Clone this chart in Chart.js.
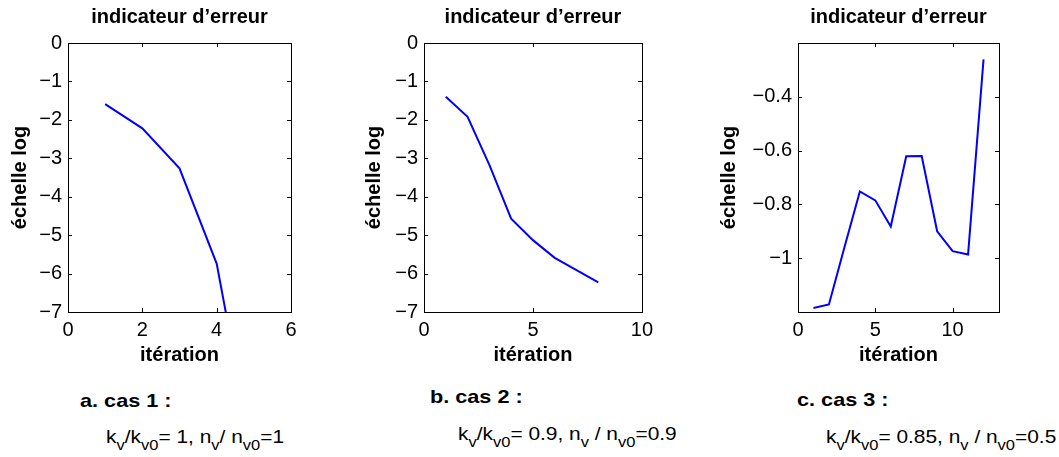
<!DOCTYPE html>
<html lang="fr">
<head>
<meta charset="utf-8">
<script src="https://cdn.jsdelivr.net/npm/chart.js@4.4.0/dist/chart.umd.min.js"></script>
<style>
  html, body { margin: 0; padding: 0; background: #fff; }
  body { width: 1059px; height: 457px; position: relative; overflow: hidden;
         font-family: "Liberation Sans", Arial, sans-serif; color: #000; }
  .panel { position: absolute; top: 0; }
  .cas { position: absolute; font-weight: bold; font-size: 19px; line-height: 1;
         white-space: nowrap; transform: scaleX(1.14); transform-origin: left top; }
  .formule { position: absolute; font-size: 19px; line-height: 1; white-space: nowrap;
             transform: scaleX(1.1); transform-origin: left top; }
  .formule sub { font-size: 15px; vertical-align: baseline; position: relative; top: 7px; }
</style>
</head>
<body>
<div class="panel" id="p1"><canvas id="c1"></canvas></div>
<div class="panel" id="p2"><canvas id="c2"></canvas></div>
<div class="panel" id="p3"><canvas id="c3"></canvas></div>

<div class="cas" style="left:80px; top:391px;">a. cas 1 :</div>
<div class="cas" style="left:430px; top:387px;">b. cas 2 :</div>
<div class="cas" style="left:797px; top:390px;">c. cas 3 :</div>

<div class="formule" style="left:106px; top:427px;">k<sub>v</sub>/k<sub>v0</sub>= 1, n<sub>v</sub>/ n<sub>v0</sub>=1</div>
<div class="formule" style="left:458px; top:424px;">k<sub>v</sub>/k<sub>v0</sub>= 0.9, n<sub>v</sub> / n<sub>v0</sub>=0.9</div>
<div class="formule" style="left:826px; top:427px;">k<sub>v</sub>/k<sub>v0</sub>= 0.85, n<sub>v</sub> / n<sub>v0</sub>=0.5</div>

<script>
// cas 1
const iter1 = [1, 2, 3, 4, 5];
const erreur1 = [-1.59, -2.22, -3.26, -5.74, -10.9];
const xTicks1 = [0, 2, 4, 6];
const yTicks1 = [0, -1, -2, -3, -4, -5, -6, -7];

// cas 2
const iter2 = [1, 2, 3, 4, 5, 6, 7, 8];
const erreur2 = [-1.40, -1.92, -3.17, -4.57, -5.13, -5.59, -5.91, -6.23];
const xTicks2 = [0, 5, 10];
const yTicks2 = [0, -1, -2, -3, -4, -5, -6, -7];

// cas 3
const iter3 = [1, 2, 3, 4, 5, 6, 7, 8, 9, 10, 11, 12];
const erreur3 = [-1.185, -1.172, -0.96, -0.752, -0.785, -0.882, -0.621, -0.620, -0.90, -0.974, -0.986, -0.261];
const xTicks3 = [0, 5, 10];
const yTicks3 = [-1, -0.8, -0.6, -0.4];

const titre = 'indicateur d\u2019erreur';
const titreX = 'itération';
const titreY = 'échelle log';

const FONT = '"Liberation Sans", Arial, sans-serif';
const Y_W = 90;      // largeur réservée à l'axe y
const X_H = 58;      // hauteur réservée à l'axe x
const PAD_R = 16;
const H = 370;

// petits traits de graduation vers l'intérieur + cadre
const cadre = {
  id: 'cadre',
  afterDatasetsDraw(chart) {
    const { ctx, chartArea: a, scales } = chart;
    ctx.save();
    ctx.strokeStyle = '#000';
    ctx.lineWidth = 1;
    ctx.beginPath();
    const len = 4;
    scales.x.ticks.forEach(t => {
      const px = Math.round(scales.x.getPixelForValue(t.value)) + 0.5;
      ctx.moveTo(px, a.bottom); ctx.lineTo(px, a.bottom - len);
      ctx.moveTo(px, a.top); ctx.lineTo(px, a.top + len);
    });
    scales.y.ticks.forEach(t => {
      const py = Math.round(scales.y.getPixelForValue(t.value)) + 0.5;
      ctx.moveTo(a.left, py); ctx.lineTo(a.left + len, py);
      ctx.moveTo(a.right, py); ctx.lineTo(a.right - len, py);
    });
    ctx.stroke();
    ctx.strokeRect(Math.round(a.left) + 0.5, Math.round(a.top) + 0.5,
                   Math.round(a.right - a.left), Math.round(a.bottom - a.top));
    ctx.restore();
  }
};

function fmt(v) {
  const s = String(Math.round(Math.abs(v) * 100) / 100);
  return (v < 0 ? '\u2212' : '') + s;
}

function panneau(id, boxLeft, boxW, xs, ys, xMin, xMax, xTicks, yMin, yMax, yTicks, yTitlePad) {
  const wrap = document.getElementById('p' + id);
  const w = Y_W + boxW + PAD_R;
  wrap.style.left = (boxLeft - Y_W) + 'px';
  const canvas = document.getElementById('c' + id);
  canvas.width = w;
  canvas.height = H;

  new Chart(canvas, {
    type: 'line',
    data: {
      datasets: [{
        data: xs.map((x, i) => ({ x: x, y: ys[i] })),
        borderColor: '#0000ff',
        borderWidth: 2,
        pointRadius: 0,
        tension: 0,
        fill: false
      }]
    },
    options: {
      responsive: false,
      animation: false,
      devicePixelRatio: 1,
      layout: { padding: { left: 0, right: PAD_R, top: 0, bottom: 0 } },
      plugins: {
        legend: { display: false },
        tooltip: { enabled: false },
        title: {
          display: true,
          text: titre,
          fullSize: false,
          color: '#000',
          font: { family: FONT, size: 20, weight: 'bold' },
          padding: { top: 5, bottom: 14 }
        }
      },
      scales: {
        x: {
          type: 'linear',
          min: xMin,
          max: xMax,
          afterBuildTicks: s => { s.ticks = xTicks.map(v => ({ value: v })); },
          afterFit: s => { s.height = X_H; },
          grid: { display: false, drawTicks: false },
          border: { display: false },
          ticks: {
            padding: 6,
            color: '#000',
            font: { family: FONT, size: 20 },
            maxRotation: 0,
            callback: v => fmt(v)
          },
          title: {
            display: true,
            text: titreX,
            color: '#000',
            font: { family: FONT, size: 20, weight: 'bold' },
            padding: { top: 0, bottom: 3 }
          }
        },
        y: {
          type: 'linear',
          min: yMin,
          max: yMax,
          afterBuildTicks: s => { s.ticks = yTicks.map(v => ({ value: v })); },
          afterFit: s => { s.width = Y_W; },
          grid: { display: false, drawTicks: false },
          border: { display: false },
          ticks: {
            padding: 6,
            color: '#000',
            font: { family: FONT, size: 20 },
            callback: v => fmt(v)
          },
          title: {
            display: true,
            text: titreY,
            color: '#000',
            font: { family: FONT, size: 20, weight: 'bold' },
            padding: { top: yTitlePad, bottom: 0 }
          }
        }
      }
    },
    plugins: [cadre]
  });
}

panneau(1, 68, 223, iter1, erreur1, 0, 6, xTicks1, -7, 0, yTicks1, 30);
panneau(2, 424, 219, iter2, erreur2, 0, 10, xTicks2, -7, 0, yTicks2, 28);
panneau(3, 798, 201, iter3, erreur3, 0, 13, xTicks3, -1.2, -0.2, yTicks3, 9);
</script>
</body>
</html>
